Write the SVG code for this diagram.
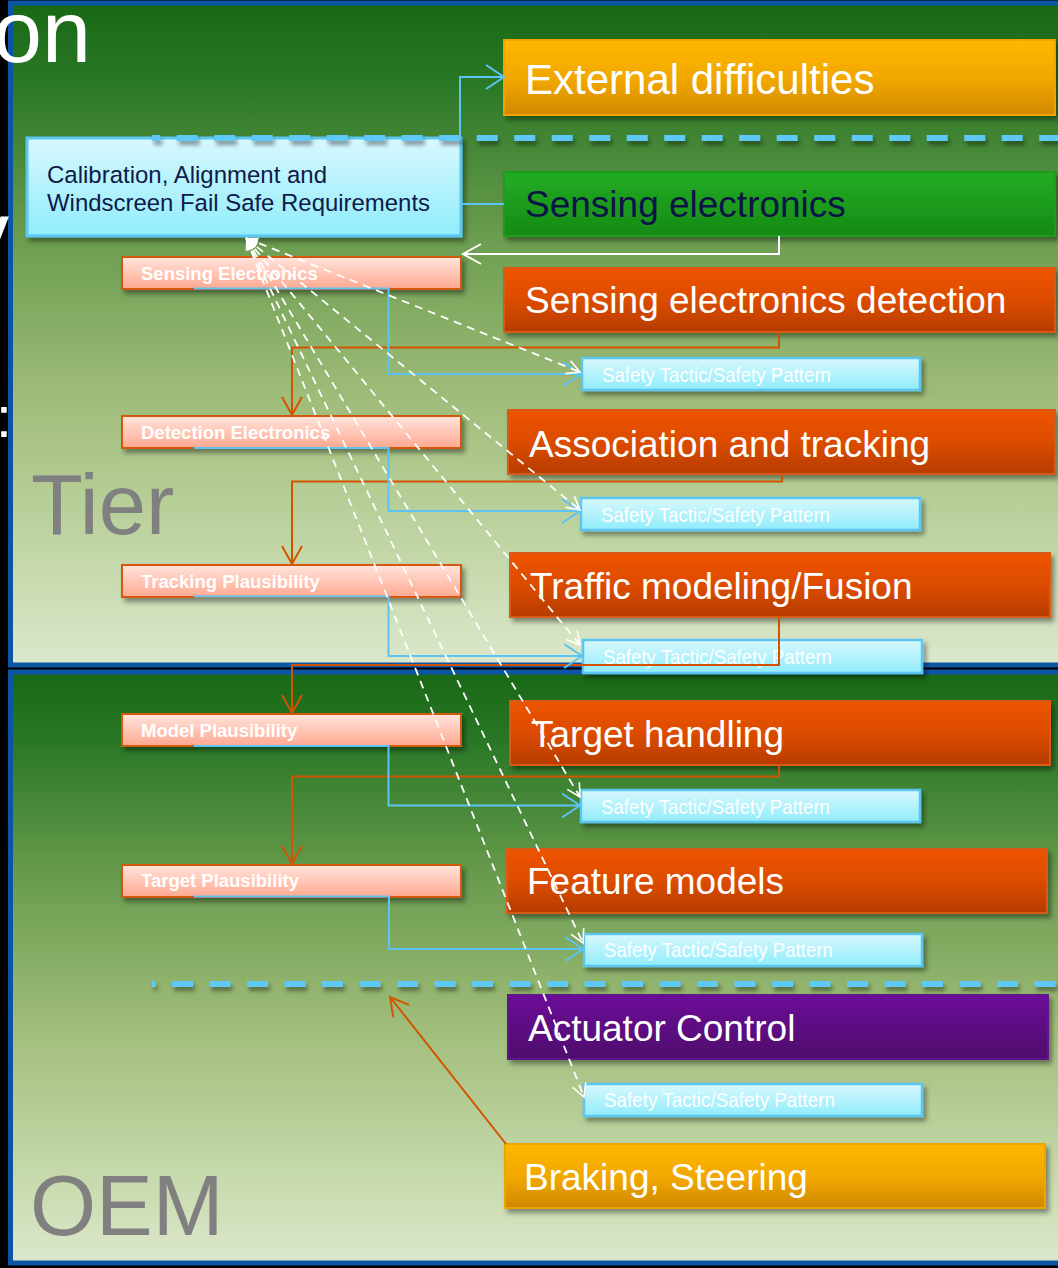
<svg xmlns="http://www.w3.org/2000/svg" width="1058" height="1268" viewBox="0 0 1058 1268">
  <defs>
    <!-- panel backgrounds: dark green at the top fading to pale sage -->
    <linearGradient id="gPanel" x1="0" y1="0" x2="0" y2="1">
      <stop offset="0" stop-color="#186816"/>
      <stop offset="0.12" stop-color="#2a7826"/>
      <stop offset="0.35" stop-color="#6a9c4e"/>
      <stop offset="0.6" stop-color="#a0bd7a"/>
      <stop offset="0.85" stop-color="#c6d9ab"/>
      <stop offset="1" stop-color="#dce8cc"/>
    </linearGradient>
    <linearGradient id="gYellow" x1="0" y1="0" x2="0" y2="1">
      <stop offset="0" stop-color="#ffb800"/>
      <stop offset="0.55" stop-color="#f0a600"/>
      <stop offset="1" stop-color="#cf8800"/>
    </linearGradient>
    <linearGradient id="gGreen" x1="0" y1="0" x2="0" y2="1">
      <stop offset="0" stop-color="#24ac24"/>
      <stop offset="1" stop-color="#158a15"/>
    </linearGradient>
    <linearGradient id="gRed" x1="0" y1="0" x2="0" y2="1">
      <stop offset="0" stop-color="#ee5400"/>
      <stop offset="0.5" stop-color="#dc4c00"/>
      <stop offset="1" stop-color="#b63c00"/>
    </linearGradient>
    <linearGradient id="gPurple" x1="0" y1="0" x2="0" y2="1">
      <stop offset="0" stop-color="#6c1098"/>
      <stop offset="1" stop-color="#4f0a6c"/>
    </linearGradient>
    <linearGradient id="gPink" x1="0" y1="0" x2="0" y2="1">
      <stop offset="0" stop-color="#ffe4dc"/>
      <stop offset="1" stop-color="#ffa890"/>
    </linearGradient>
    <linearGradient id="gCyan" x1="0" y1="0" x2="0" y2="1">
      <stop offset="0" stop-color="#d8f8fd"/>
      <stop offset="1" stop-color="#90ecfb"/>
    </linearGradient>

    <filter id="sh" x="-5%" y="-30%" width="115%" height="180%">
      <feDropShadow dx="3" dy="4" stdDeviation="2.5" flood-color="#000" flood-opacity="0.4"/>
    </filter>
    <!-- horizontal lines have a zero-height box, so their shadow uses user space -->
    <filter id="shLine" filterUnits="userSpaceOnUse" x="0" y="0" width="1058" height="1268">
      <feDropShadow dx="2" dy="4" stdDeviation="2" flood-color="#000" flood-opacity="0.4"/>
    </filter>

    <!-- arrowheads -->
    <marker id="aBlue" markerUnits="userSpaceOnUse" viewBox="0 0 24 30" markerWidth="24" markerHeight="30" refX="21" refY="15" orient="auto">
      <path d="M3,3 L21,15 L3,27" fill="none" stroke="#5cc4f2" stroke-width="2"/>
    </marker>
    <marker id="aOrange" markerUnits="userSpaceOnUse" viewBox="0 0 24 26" markerWidth="24" markerHeight="26" refX="21" refY="13" orient="auto">
      <path d="M3,3 L21,13 L3,23" fill="none" stroke="#d35400" stroke-width="2"/>
    </marker>
    <marker id="aWhite" markerUnits="userSpaceOnUse" viewBox="0 0 24 26" markerWidth="24" markerHeight="26" refX="21" refY="13" orient="auto">
      <path d="M3,3 L21,13 L3,23" fill="none" stroke="#ffffff" stroke-width="2"/>
    </marker>
    <marker id="aWhiteOpen" markerUnits="userSpaceOnUse" viewBox="0 0 18 20" markerWidth="18" markerHeight="20" refX="16" refY="10" orient="auto">
      <path d="M3,3 L16,10 L3,17" fill="none" stroke="#ffffff" stroke-width="1.6"/>
    </marker>
    <marker id="aWhiteFill" markerUnits="userSpaceOnUse" viewBox="0 0 14 12" markerWidth="14" markerHeight="12" refX="1" refY="6" orient="auto">
      <path d="M1,6 L13,1 L13,11 Z" fill="#ffffff"/>
    </marker>

    <style>
      .panel { fill: url(#gPanel); stroke: #0c54a4; stroke-width: 5; }
      .box { filter: url(#sh); }
      .big { font-family: "Liberation Sans", Arial, sans-serif; font-size: 37px; fill: #ffffff; }
      .yellow { fill: url(#gYellow); stroke: #f0a400; stroke-width: 2; }
      .green { fill: url(#gGreen); stroke: #1e9e1e; stroke-width: 2; }
      .red { fill: url(#gRed); stroke: #d85a18; stroke-width: 2; }
      .purple { fill: url(#gPurple); stroke: #5e1288; stroke-width: 2; }
      .pink { fill: url(#gPink); stroke: #d4590f; stroke-width: 2; }
      .ptxt { font-family: "Liberation Sans", Arial, sans-serif; font-weight: bold; font-size: 18.5px; fill: #ffffff; }
      .st { fill: url(#gCyan); stroke: #5cc6f3; stroke-width: 2.5; }
      .sttxt { font-family: "Liberation Sans", Arial, sans-serif; font-size: 21px; fill: #ffffff; }
      .sep { fill: none; stroke: #5ec8f4; stroke-width: 6; stroke-dasharray: 21 16.5; }
      .tier { font-family: "Liberation Sans", Arial, sans-serif; font-size: 85px; fill: #808080; }
      .title { font-family: "Liberation Sans", Arial, sans-serif; fill: #ffffff; }
      .cBlue { fill: none; stroke: #5cc4f2; stroke-width: 2; }
      .cOrange { fill: none; stroke: #d35400; stroke-width: 2; }
      .cWhite { fill: none; stroke: #ffffff; stroke-width: 2; }
      .cDash { fill: none; stroke: #ffffff; stroke-width: 1.8; stroke-dasharray: 8 6; }
    </style>
  </defs>

  <!-- slide background and the two swim-lane panels -->
  <rect x="0" y="0" width="1058" height="1268" fill="#000000"/>
  <g id="panels">
    <rect class="panel" x="10.5" y="3" width="1060" height="662"/>
    <rect class="panel" x="10.5" y="672" width="1060" height="591"/>
  </g>

  <!-- clipped slide title fragments -->
  <g id="title">
    <text class="title" x="91" y="62" font-size="88" text-anchor="end">on</text>
    <text class="title" x="9" y="263" font-size="88" text-anchor="end">y</text>
    <text class="title" x="-4" y="437" font-size="57">:</text>
  </g>

  <g id="lane-labels">
    <text class="tier" x="31" y="534">Tier</text>
    <text class="tier" x="30" y="1235">OEM</text>
  </g>

  <!-- requirement box -->
  <g id="calibration">
    <rect class="box" x="27" y="138" width="434" height="98" fill="url(#gCyan)" stroke="#5cc6f3" stroke-width="3"/>
    <text font-family="Liberation Sans, Arial, sans-serif" font-size="24.5" fill="#0d1a4a" x="47" y="183" textLength="280" lengthAdjust="spacingAndGlyphs">Calibration, Alignment and</text>
    <text font-family="Liberation Sans, Arial, sans-serif" font-size="24.5" fill="#0d1a4a" x="47" y="211" textLength="383" lengthAdjust="spacingAndGlyphs">Windscreen Fail Safe Requirements</text>
  </g>

  <!-- processing chain (right column) -->
  <g id="external-difficulties">
    <rect class="box yellow" x="504" y="40" width="551" height="75"/>
    <text class="big" x="525" y="94" style="font-size:42px">External difficulties</text>
  </g>
  <g id="sensing-electronics">
    <rect class="box green" x="504" y="172" width="551" height="64"/>
    <text class="big" x="525" y="217" style="fill:#0b1446">Sensing electronics</text>
  </g>
  <g id="sensing-electronics-detection">
    <rect class="box red" x="504" y="268" width="551" height="64"/>
    <text class="big" x="525" y="313">Sensing electronics detection</text>
  </g>
  <g id="association-tracking">
    <rect class="box red" x="508" y="410" width="547" height="64"/>
    <text class="big" x="529" y="457">Association and tracking</text>
  </g>
  <g id="traffic-modeling">
    <rect class="box red" x="510" y="553" width="540" height="64"/>
    <text class="big" x="530" y="599">Traffic modeling/Fusion</text>
  </g>
  <g id="target-handling">
    <rect class="box red" x="510" y="701" width="540" height="64"/>
    <text class="big" x="531" y="747">Target handling</text>
  </g>
  <g id="feature-models">
    <rect class="box red" x="507" y="849" width="540" height="64"/>
    <text class="big" x="527" y="894">Feature models</text>
  </g>
  <g id="actuator-control">
    <rect class="box purple" x="508" y="995" width="540" height="64"/>
    <text class="big" x="528" y="1041">Actuator Control</text>
  </g>
  <g id="braking-steering">
    <rect class="box yellow" x="505" y="1144" width="540" height="64"/>
    <text class="big" x="524" y="1190">Braking, Steering</text>
  </g>

  <!-- plausibility checks (left column) -->
  <g id="sensing-electronics-check">
    <rect class="box pink" x="122" y="257" width="339" height="32"/>
    <text class="ptxt" x="141" y="280">Sensing Electronics</text>
  </g>
  <g id="detection-electronics-check">
    <rect class="box pink" x="122" y="416" width="339" height="32"/>
    <text class="ptxt" x="141" y="439">Detection Electronics</text>
  </g>
  <g id="tracking-plausibility">
    <rect class="box pink" x="122" y="565" width="339" height="32"/>
    <text class="ptxt" x="141" y="588">Tracking Plausibility</text>
  </g>
  <g id="model-plausibility">
    <rect class="box pink" x="122" y="714" width="339" height="32"/>
    <text class="ptxt" x="141" y="737">Model Plausibility</text>
  </g>
  <g id="target-plausibility">
    <rect class="box pink" x="122" y="865" width="339" height="32"/>
    <text class="ptxt" x="141" y="887">Target Plausibility</text>
  </g>

  <!-- safety tactic / pattern boxes -->
  <g id="safety-pattern-1">
    <rect class="box st" x="582" y="358" width="338" height="32"/>
    <text class="sttxt" x="602" y="382" textLength="229" lengthAdjust="spacingAndGlyphs">Safety Tactic/Safety Pattern</text>
  </g>
  <g id="safety-pattern-2">
    <rect class="box st" x="581" y="498" width="339" height="32"/>
    <text class="sttxt" x="601" y="521.5" textLength="229" lengthAdjust="spacingAndGlyphs">Safety Tactic/Safety Pattern</text>
  </g>
  <g id="safety-pattern-3">
    <rect class="box st" x="583" y="640" width="339" height="33"/>
    <text class="sttxt" x="603" y="664" textLength="229" lengthAdjust="spacingAndGlyphs">Safety Tactic/Safety Pattern</text>
  </g>
  <g id="safety-pattern-4">
    <rect class="box st" x="581" y="790" width="339" height="32"/>
    <text class="sttxt" x="601" y="813.5" textLength="229" lengthAdjust="spacingAndGlyphs">Safety Tactic/Safety Pattern</text>
  </g>
  <g id="safety-pattern-5">
    <rect class="box st" x="584" y="934" width="338" height="32"/>
    <text class="sttxt" x="604" y="957" textLength="229" lengthAdjust="spacingAndGlyphs">Safety Tactic/Safety Pattern</text>
  </g>
  <g id="safety-pattern-6">
    <rect class="box st" x="584" y="1084" width="338" height="32"/>
    <text class="sttxt" x="604" y="1107" textLength="231" lengthAdjust="spacingAndGlyphs">Safety Tactic/Safety Pattern</text>
  </g>

  <!-- boundary separators -->
  <g id="separators" filter="url(#shLine)">
    <line class="sep" x1="152" y1="138" x2="1058" y2="138" stroke-dashoffset="12.8"/>
    <line class="sep" x1="152" y1="984" x2="1058" y2="984" stroke-dashoffset="17.5"/>
  </g>

  <g id="connectors">
    <!-- requirement box links -->
    <path class="cBlue" d="M460,137 V77 H504" marker-end="url(#aBlue)"/>
    <path class="cBlue" d="M461,204 H504"/>
    <path class="cWhite" d="M779,236 V254 H463" marker-end="url(#aWhite)"/>

    <!-- chain stage to plausibility check -->
    <path class="cOrange" d="M779,332 V347.5 H292 V415" marker-end="url(#aOrange)"/>
    <path class="cOrange" d="M782,474 V481.5 H292 V564" marker-end="url(#aOrange)"/>
    <path class="cOrange" d="M779,617 V665 H292 V713" marker-end="url(#aOrange)"/>
    <path class="cOrange" d="M779,765 V776.5 H292 V864" marker-end="url(#aOrange)"/>
    <path class="cOrange" d="M506,1144 L390,997" marker-end="url(#aOrange)"/>

    <!-- plausibility check to safety pattern -->
    <path class="cBlue" d="M194,288.5 H388.5 V374 H581" marker-end="url(#aBlue)"/>
    <path class="cBlue" d="M194,448 H388.5 V511 H580" marker-end="url(#aBlue)"/>
    <path class="cBlue" d="M194,596.5 H388.5 V656 H582" marker-end="url(#aBlue)"/>
    <path class="cBlue" d="M194,746 H388.5 V805.5 H580" marker-end="url(#aBlue)"/>
    <path class="cBlue" d="M194,896.5 H389 V949 H583" marker-end="url(#aBlue)"/>

    <!-- safety patterns traced back to the requirements -->
    <path class="cDash" d="M246,238 L580,372" marker-start="url(#aWhiteFill)" marker-end="url(#aWhiteOpen)"/>
    <path class="cDash" d="M246,238 L580,510" marker-start="url(#aWhiteFill)" marker-end="url(#aWhiteOpen)"/>
    <path class="cDash" d="M246,238 L580,645" marker-start="url(#aWhiteFill)" marker-end="url(#aWhiteOpen)"/>
    <path class="cDash" d="M246,238 L580,797" marker-start="url(#aWhiteFill)" marker-end="url(#aWhiteOpen)"/>
    <path class="cDash" d="M246,238 L583,943" marker-start="url(#aWhiteFill)" marker-end="url(#aWhiteOpen)"/>
    <path class="cDash" d="M246,238 L584,1097" marker-start="url(#aWhiteFill)" marker-end="url(#aWhiteOpen)"/>
  </g>
</svg>
